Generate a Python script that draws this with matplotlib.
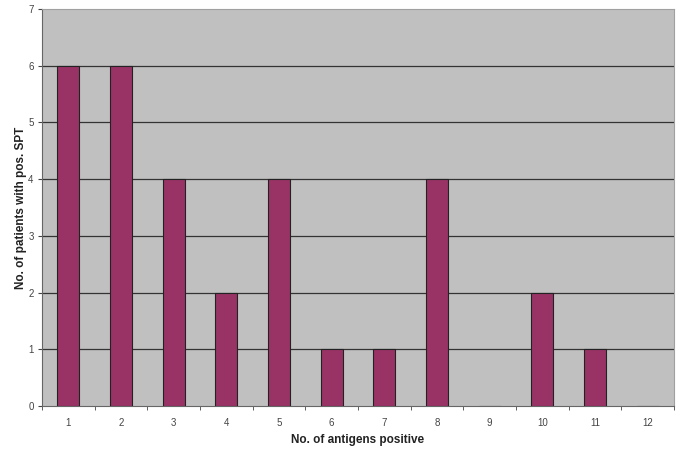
import matplotlib
matplotlib.use("Agg")
import matplotlib.pyplot as plt
import numpy as np

plt.rcParams['font.family'] = ['Liberation Sans', 'DejaVu Sans']

antigens = ["1", "2", "3", "4", "5", "6", "7", "8", "9", "10", "11", "12"]
patients = [6, 6, 4, 2, 4, 1, 1, 4, 0, 2, 1, 0]

fig = plt.figure(figsize=(6.82, 4.51), dpi=100)
ax = fig.add_axes([0.0616, 0.0998, 0.9267, 0.8802])
ax.set_facecolor('#C0C0C0')

x = np.arange(len(antigens))
ax.bar(x, patients, width=0.42, color='#993366', edgecolor='#222222',
       linewidth=0.8, zorder=3)

ax.set_xlim(-0.5, len(antigens) - 0.5)
ax.set_ylim(0, 7)
ax.set_yticks(range(0, 8))
# interior gridlines only; the top edge is a light frame line
for level in range(1, 7):
    ax.axhline(level, color='#333333', linewidth=0.9, zorder=1)

ax.set_xticks(x)
ax.set_xticklabels(antigens)
ax.set_xticks(np.arange(-0.5, len(antigens)), minor=True)
ax.tick_params(axis='x', which='major', length=0, pad=9, labelsize=7,
               colors='#444444')
ax.tick_params(axis='x', which='minor', length=3, direction='out',
               color='#444444')
ax.tick_params(axis='y', length=3, direction='out', labelsize=7,
               colors='#444444', pad=3)

ax.spines['top'].set_color('#A0A0A0')
ax.spines['right'].set_color('#A0A0A0')
ax.spines['left'].set_color('#666666')
ax.spines['bottom'].set_color('#666666')

ax.set_xlabel('No. of antigens positive', fontsize=8.5, fontweight='bold',
              color='#222222', labelpad=4)
ax.set_ylabel('No. of patients with pos. SPT', fontsize=8.5, fontweight='bold',
              color='#222222', labelpad=1)

fig.savefig('out.png', dpi=100, facecolor='white')
